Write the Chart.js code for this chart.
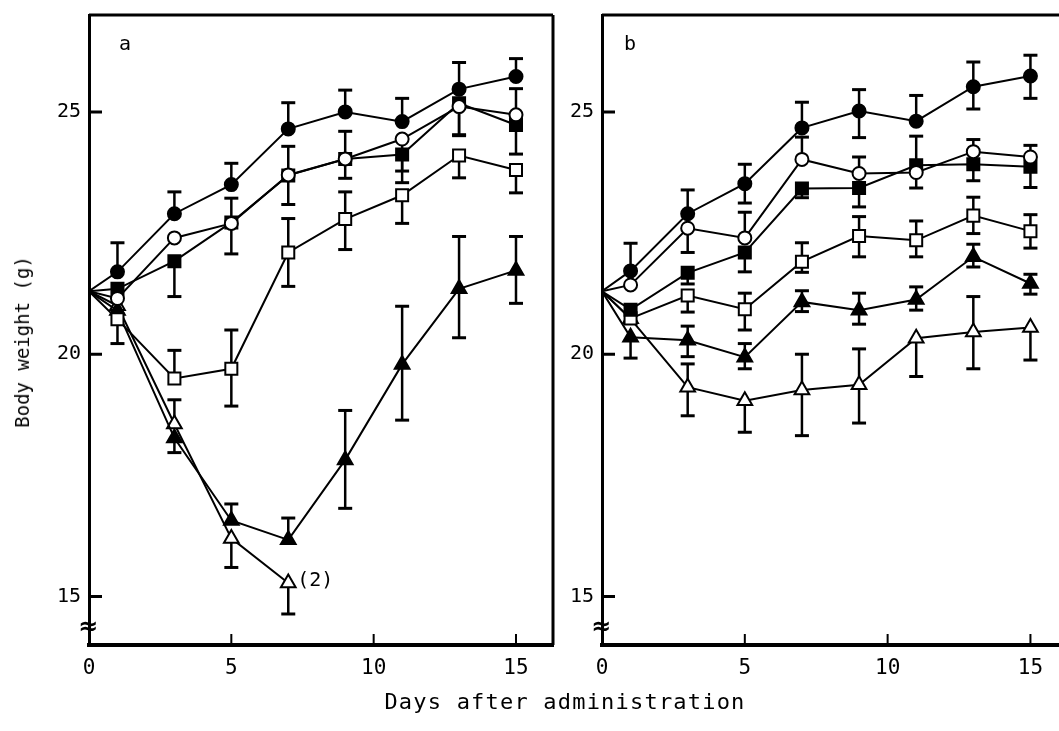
<!DOCTYPE html>
<html>
<head>
<meta charset="utf-8">
<script src="https://cdn.jsdelivr.net/npm/chart.js@4.4.1/dist/chart.umd.min.js"></script>
<style>
  body { margin: 0; background: #fff; }
  #wrap { position: relative; width: 1059px; height: 731px; overflow: hidden; background: #fff; }
  canvas { position: absolute; top: 0; }
  #chartA { left: 0; }
  #chartB { left: 556px; }
  .title { position: absolute; font-family: "DejaVu Sans Mono", monospace; color: #000; white-space: nowrap; }
  #xTitle { left: 565px; top: 701px; transform: translate(-50%, -50%); font-size: 22px; letter-spacing: 1.2px; }
  #yTitle { left: 22px; top: 342px; transform: translate(-50%, -50%) rotate(-90deg); font-size: 19px; }
</style>
</head>
<body>
<div id="wrap">
  <canvas id="chartA" width="556" height="731"></canvas>
  <canvas id="chartB" width="503" height="731"></canvas>
  <div class="title" id="yTitle">Body weight (g)</div>
  <div class="title" id="xTitle">Days after administration</div>
</div>
<script>
const days = [0, 1, 3, 5, 7, 9, 11, 13, 15];
const xTicks = [0, 5, 10, 15];
const yTicks = [15, 20, 25];

// panel a - mean body weight (g) and error bar lengths (up / down)
const aCircleFilled = [21.3, 21.7, 22.9, 23.5, 24.65, 25.0, 24.8, 25.47, 25.73];
const aCircleFilledUp = [0, 0.6, 0.45, 0.44, 0.54, 0.45, 0.48, 0.55, 0.37];
const aCircleFilledDown = [0, 0, 0, 0, 0, 0, 0, 0, 0];
const aCircleOpen = [21.3, 21.15, 22.4, 22.7, 23.7, 24.03, 24.44, 25.11, 24.94];
const aCircleOpenUp = [0, 0, 0, 0, 0, 0, 0, 0, 0.54];
const aCircleOpenDown = [0, 0, 0, 0, 0, 0, 0.66, 0.6, 0];
const aSquareFilled = [21.3, 21.35, 21.92, 22.72, 23.69, 24.03, 24.12, 25.18, 24.73];
const aSquareFilledUp = [0, 0, 0, 0.5, 0.6, 0.57, 0, 0, 0];
const aSquareFilledDown = [0, 0, 0.73, 0.65, 0.6, 0.4, 0.58, 0.65, 0.6];
const aSquareOpen = [21.3, 20.72, 19.5, 19.7, 22.1, 22.79, 23.28, 24.1, 23.8];
const aSquareOpenUp = [0, 0, 0.58, 0.8, 0.7, 0.56, 0, 0, 0];
const aSquareOpenDown = [0, 0.5, 0, 0.77, 0.7, 0.63, 0.58, 0.46, 0.47];
const aTriFilled = [21.3, 20.9, 18.27, 16.57, 16.17, 17.82, 19.79, 21.35, 21.73];
const aTriFilledUp = [0, 0, 0, 0.34, 0.45, 1.02, 1.2, 1.08, 0.7];
const aTriFilledDown = [0, 0, 0.3, 0, 0, 1.0, 1.15, 1.01, 0.68];
const aTriOpen = [21.3, 21.0, 18.56, 16.2, 15.28];
const aTriOpenUp = [0, 0, 0.5, 0, 0];
const aTriOpenDown = [0, 0, 0, 0.6, 0.64];

// panel b
const bCircleFilled = [21.3, 21.72, 22.9, 23.52, 24.67, 25.02, 24.81, 25.52, 25.74];
const bCircleFilledUp = [0, 0.57, 0.49, 0.4, 0.53, 0.44, 0.53, 0.51, 0.43];
const bCircleFilledDown = [0, 0, 0, 0.4, 0, 0.55, 0, 0.46, 0.46];
const bCircleOpen = [21.3, 21.43, 22.6, 22.4, 24.02, 23.73, 23.75, 24.18, 24.07];
const bCircleOpenUp = [0, 0, 0, 0.53, 0.46, 0.34, 0, 0.25, 0.24];
const bCircleOpenDown = [0, 0, 0.5, 0, 0, 0, 0.32, 0, 0];
const bSquareFilled = [21.3, 20.92, 21.68, 22.1, 23.42, 23.43, 23.9, 23.92, 23.87];
const bSquareFilledUp = [0, 0, 0, 0, 0, 0, 0.6, 0, 0];
const bSquareFilledDown = [0, 0, 0.23, 0.4, 0.19, 0.39, 0, 0.34, 0.43];
const bSquareOpen = [21.3, 20.74, 21.21, 20.93, 21.91, 22.44, 22.35, 22.86, 22.54];
const bSquareOpenUp = [0, 0, 0, 0.33, 0.39, 0.4, 0.4, 0.38, 0.34];
const bSquareOpenDown = [0, 0, 0.34, 0.43, 0.22, 0.43, 0.34, 0.37, 0.35];
const bTriFilled = [21.3, 20.35, 20.29, 19.94, 21.08, 20.91, 21.13, 22.01, 21.46];
const bTriFilledUp = [0, 0, 0.29, 0.28, 0.23, 0.35, 0.26, 0.26, 0.19];
const bTriFilledDown = [0, 0.43, 0.34, 0.24, 0.2, 0.29, 0.22, 0.21, 0.22];
const bTriOpen = [21.3, 20.73, 19.32, 19.04, 19.26, 19.37, 20.33, 20.46, 20.55];
const bTriOpenUp = [0, 0, 0.48, 0, 0.74, 0.74, 0, 0.73, 0];
const bTriOpenDown = [0, 0, 0.59, 0.65, 0.94, 0.79, 0.79, 0.76, 0.67];

const monoFont = '"DejaVu Sans Mono", monospace';

function series(vals, up, down, shape, filled) {
    const r = shape === 'circle' ? 6.5 : 8.5;
    return {
        data: vals.map((v, i) => ({ x: days[i], y: v })),
        errUp: up,
        errDown: down,
        borderColor: '#000',
        borderWidth: 2,
        pointStyle: shape,
        pointBackgroundColor: filled ? '#000' : '#fff',
        pointBorderColor: '#000',
        pointBorderWidth: 2,
        pointRadius: vals.map((v, i) => i === 0 ? 0 : r),
        tension: 0,
        fill: false
    };
}

// vertical error bars with caps, drawn under the markers
const errorBars = {
    id: 'errorBars',
    beforeDatasetsDraw(chart) {
        const ctx = chart.ctx;
        const xs = chart.scales.x, ys = chart.scales.y;
        ctx.save();
        ctx.strokeStyle = '#000';
        chart.data.datasets.forEach(ds => {
            ds.data.forEach((p, i) => {
                const px = xs.getPixelForValue(p.x);
                const py = ys.getPixelForValue(p.y);
                [ds.errUp[i], -ds.errDown[i]].forEach(e => {
                    if (!e) return;
                    const ey = ys.getPixelForValue(p.y + e);
                    ctx.lineWidth = 2.5;
                    ctx.beginPath();
                    ctx.moveTo(px, py);
                    ctx.lineTo(px, ey);
                    ctx.stroke();
                    ctx.lineWidth = 3;
                    ctx.beginPath();
                    ctx.moveTo(px - 7, ey);
                    ctx.lineTo(px + 7, ey);
                    ctx.stroke();
                });
            });
        });
        ctx.restore();
    }
};

// frame, inward tick marks, axis break, panel letter and note
const decor = {
    id: 'decor',
    afterDraw(chart, args, opts) {
        const ctx = chart.ctx;
        const a = chart.chartArea;
        const xs = chart.scales.x, ys = chart.scales.y;
        ctx.save();
        ctx.strokeStyle = '#000';
        ctx.fillStyle = '#000';
        ctx.lineWidth = 3;
        ctx.beginPath();
        ctx.moveTo(a.left, a.top);
        ctx.lineTo(a.right, a.top);
        if (opts.right) {
            ctx.moveTo(a.right, a.top);
            ctx.lineTo(a.right, a.bottom);
        }
        yTicks.forEach(v => {
            const py = ys.getPixelForValue(v);
            ctx.moveTo(a.left, py);
            ctx.lineTo(a.left + 13, py);
        });
        ctx.stroke();
        ctx.lineWidth = 2;
        ctx.beginPath();
        xTicks.forEach(v => {
            if (v === 0) return;
            const px = xs.getPixelForValue(v);
            ctx.moveTo(px, a.bottom);
            ctx.lineTo(px, a.bottom - 11);
        });
        ctx.stroke();

        ctx.textAlign = 'center';
        ctx.textBaseline = 'middle';
        ctx.font = 'bold 24px "DejaVu Sans", sans-serif';
        ctx.fillText('\u2248', a.left - 1, ys.getPixelForValue(14.35));

        ctx.font = '20px ' + monoFont;
        ctx.fillText(opts.letter, a.left + opts.letterX, a.top + 30);
        if (opts.note) {
            ctx.textAlign = 'left';
            ctx.fillText(opts.note.text, xs.getPixelForValue(opts.note.x) + 9, ys.getPixelForValue(opts.note.y) - 2);
        }
        ctx.restore();
    }
};

function makeChart(id, datasets, cfg) {
    return new Chart(document.getElementById(id), {
        type: 'line',
        data: { datasets: datasets },
        options: {
            responsive: false,
            animation: false,
            layout: { autoPadding: false, padding: { top: 15, right: cfg.padRight, left: 0, bottom: 0 } },
            plugins: {
                legend: { display: false },
                tooltip: { enabled: false },
                decor: cfg.decor
            },
            scales: {
                x: {
                    type: 'linear',
                    min: 0,
                    max: cfg.xMax,
                    afterBuildTicks: s => { s.ticks = xTicks.map(v => ({ value: v })); },
                    afterFit: s => { s.height = 86; s.paddingLeft = 0; s.paddingRight = 0; },
                    grid: { display: false, drawTicks: false },
                    border: { display: true, color: '#000', width: 4 },
                    ticks: { color: '#000', padding: 11, maxRotation: 0, font: { family: monoFont, size: 21 } }
                },
                y: {
                    type: 'linear',
                    min: 14,
                    max: 27,
                    afterBuildTicks: s => { s.ticks = yTicks.map(v => ({ value: v })); },
                    afterFit: s => { s.width = cfg.yWidth; s.paddingTop = 0; s.paddingBottom = 0; },
                    grid: { display: false, drawTicks: false },
                    border: { display: true, color: '#000', width: 3 },
                    ticks: { color: '#000', padding: 8, font: { family: monoFont, size: 20 } }
                }
            }
        },
        plugins: [errorBars, decor]
    });
}

makeChart('chartA', [
    series(aCircleFilled, aCircleFilledUp, aCircleFilledDown, 'circle', true),
    series(aCircleOpen, aCircleOpenUp, aCircleOpenDown, 'circle', false),
    series(aSquareFilled, aSquareFilledUp, aSquareFilledDown, 'rect', true),
    series(aSquareOpen, aSquareOpenUp, aSquareOpenDown, 'rect', false),
    series(aTriFilled, aTriFilledUp, aTriFilledDown, 'triangle', true),
    series(aTriOpen, aTriOpenUp, aTriOpenDown, 'triangle', false)
], {
    xMax: 16.3,
    yWidth: 89,
    padRight: 3,
    decor: { right: true, letter: 'a', letterX: 36, note: { text: '(2)', x: 7, y: 15.28 } }
});

makeChart('chartB', [
    series(bCircleFilled, bCircleFilledUp, bCircleFilledDown, 'circle', true),
    series(bCircleOpen, bCircleOpenUp, bCircleOpenDown, 'circle', false),
    series(bSquareFilled, bSquareFilledUp, bSquareFilledDown, 'rect', true),
    series(bSquareOpen, bSquareOpenUp, bSquareOpenDown, 'rect', false),
    series(bTriFilled, bTriFilledUp, bTriFilledDown, 'triangle', true),
    series(bTriOpen, bTriOpenUp, bTriOpenDown, 'triangle', false)
], {
    xMax: 16,
    yWidth: 46,
    padRight: 0,
    decor: { right: false, letter: 'b', letterX: 28 }
});
</script>
</body>
</html>
